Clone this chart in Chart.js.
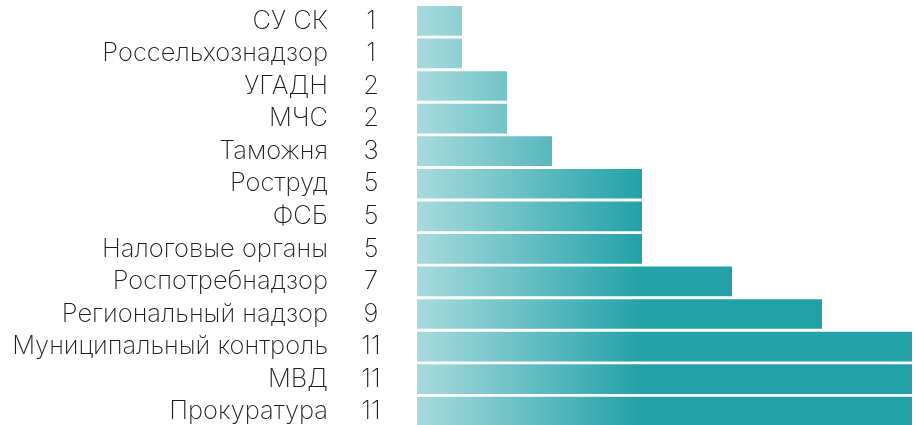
<!DOCTYPE html>
<html>
<head>
<meta charset="utf-8">
<script src="https://cdn.jsdelivr.net/npm/chart.js@4"></script>
<style>
  html, body { margin: 0; padding: 0; background: #ffffff; overflow: hidden; }
  canvas { display: block; }
</style>
</head>
<body>
<canvas id="c" width="916" height="430" style="width:916px;height:430px"></canvas>
<script>
const categories = ["СУ СК", "Россельхознадзор", "УГАДН", "МЧС", "Таможня", "Роструд", "ФСБ", "Налоговые органы", "Роспотребнадзор", "Региональный надзор", "Муниципальный контроль", "МВД", "Прокуратура"];
const values = [1, 1, 2, 2, 3, 5, 5, 5, 7, 9, 11, 11, 11];

const FONT = "Inter, 'Open Sans', sans-serif";

function barGradient(context) {
  const chart = context.chart;
  const area = chart.chartArea;
  if (!area) return '#22a2a8';
  const g = chart.ctx.createLinearGradient(area.left, 0, area.left + 223, 0);
  g.addColorStop(0, '#a8dadd');
  g.addColorStop(1, '#22a2a8');
  return g;
}

const valueLabels = {
  id: 'valueLabels',
  afterDatasetsDraw(chart) {
    const ctx = chart.ctx;
    const y = chart.scales.y;
    ctx.save();
    ctx.font = "200 25.5px " + FONT;
    ctx.fillStyle = '#1e1e1e';
    ctx.textAlign = 'center';
    ctx.textBaseline = 'middle';
    values.forEach((v, i) => {
      ctx.fillText(String(v), 371, y.getPixelForValue(i));
    });
    ctx.restore();
  }
};

new Chart(document.getElementById('c'), {
  type: 'bar',
  data: {
    labels: categories,
    datasets: [{
      data: values,
      backgroundColor: barGradient,
      borderWidth: 0,
      barPercentage: 0.912,
      categoryPercentage: 1
    }]
  },
  options: {
    indexAxis: 'y',
    responsive: false,
    maintainAspectRatio: false,
    animation: false,
    devicePixelRatio: 1,
    layout: { padding: { top: 4.6, bottom: 2, left: 0, right: 4 } },
    plugins: { legend: { display: false }, tooltip: { enabled: false } },
    scales: {
      x: { display: false, min: 0, max: 11 },
      y: {
        grid: { display: false, drawTicks: false },
        border: { display: false },
        ticks: {
          font: { family: FONT, size: 25.5, weight: '200' },
          color: '#1e1e1e',
          padding: 89,
          autoSkip: false
        },
        afterFit(scale) {
          scale.width = 417;
          scale.paddingTop = 0;
          scale.paddingBottom = 0;
        }
      }
    }
  },
  plugins: [valueLabels]
});
</script>
</body>
</html>
